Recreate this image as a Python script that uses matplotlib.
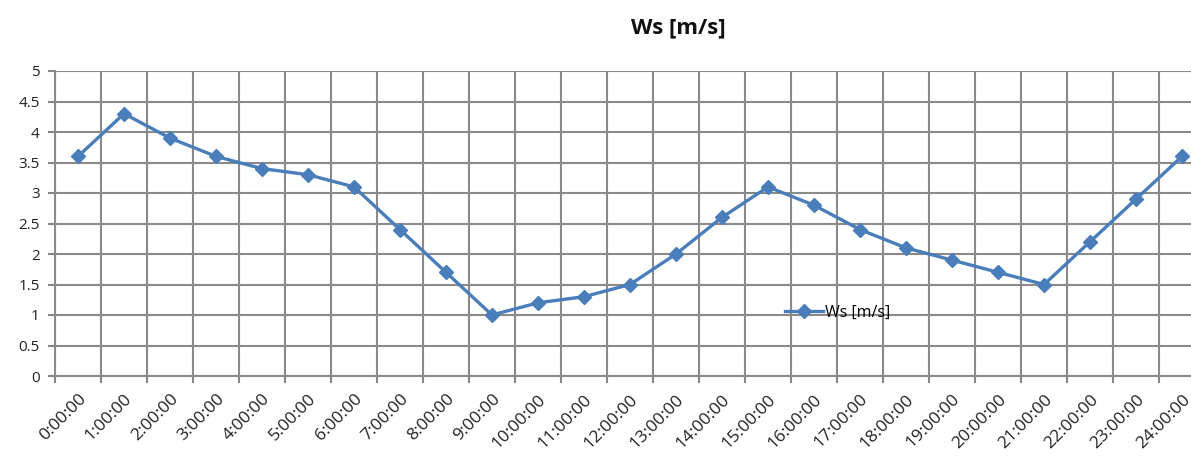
import matplotlib
matplotlib.use("Agg")
import matplotlib.pyplot as plt
from matplotlib.ticker import MultipleLocator, FixedLocator

hours = [f"{h}:00:00" for h in range(25)]
wind_speed = [3.6, 4.3, 3.9, 3.6, 3.4, 3.3, 3.1, 2.4, 1.7, 1.0, 1.2, 1.3, 1.5,
              2.0, 2.6, 3.1, 2.8, 2.4, 2.1, 1.9, 1.7, 1.5, 2.2, 2.9, 3.6]
series_name = "Ws [m/s]"
title = "Ws [m/s]"

plt.rcParams['font.family'] = ['Open Sans', 'DejaVu Sans']

fig = plt.figure(figsize=(11.91, 4.57), dpi=100)
ax = fig.add_axes([55 / 1191, 81 / 457, 1150 / 1191, 305 / 457])

x = list(range(len(hours)))
line_color = "#4a7ebb"
ax.plot(x, wind_speed, color=line_color, lw=2.4, marker="D", ms=7.5,
        mfc=line_color, mec=line_color, label=series_name, zorder=3)

ax.set_xlim(-0.5, len(hours) - 0.5)
ax.set_ylim(0, 5)
ax.yaxis.set_major_locator(MultipleLocator(0.5))
ax.set_yticklabels([f"{v:g}" for v in ax.get_yticks()])

# gridlines sit between categories
ax.xaxis.set_minor_locator(FixedLocator([i - 0.5 for i in range(len(hours) + 1)]))
ax.set_xticks(x)
ax.set_xticklabels(hours, rotation=45, ha="right", rotation_mode="anchor",
                   fontsize=12.5, color="#222222")
ax.tick_params(axis="x", which="major", length=0, pad=11)
ax.tick_params(axis="x", which="minor", length=5, color="#868686", width=1.5)
ax.tick_params(axis="y", length=5, color="#868686", width=1.5,
               labelsize=11, labelcolor="#222222", pad=6)

ax.grid(True, which="minor", axis="x", color="#8a8a8a", lw=1.5)
ax.grid(True, which="major", axis="y", color="#8a8a8a", lw=1.5)
ax.set_axisbelow(True)
for side in ("top", "right"):
    ax.spines[side].set_visible(False)
for side in ("left", "bottom"):
    ax.spines[side].set_color("#8a8a8a")
    ax.spines[side].set_linewidth(1.5)

ax.legend(loc="center left", bbox_to_anchor=(730 / 1150, (376 - 313) / 305),
          frameon=False, fontsize=11.5, handlelength=2.4, handletextpad=0.1,
          borderaxespad=0, borderpad=0)

fig.text(678 / 1191, 1 - 28 / 457, title, ha="center", va="center",
         fontsize=16, fontweight="bold", color="#111111")

fig.savefig("out.png", dpi=100)
